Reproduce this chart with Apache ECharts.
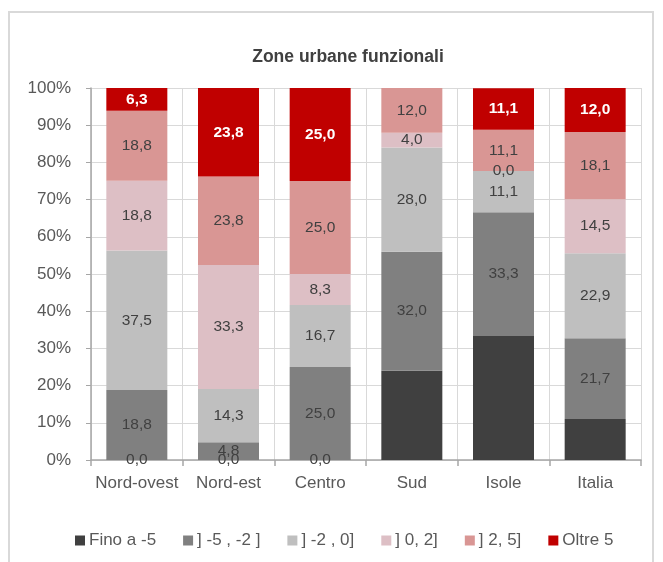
<!DOCTYPE html>
<html>
<head>
<meta charset="utf-8">
<script src="https://cdn.jsdelivr.net/npm/echarts@6/dist/echarts.min.js"></script>
<style>
  html, body { margin: 0; padding: 0; background: #fff; }
  #chart { width: 663px; height: 562px; }
</style>
</head>
<body>
<div id="chart"></div>
<script>
// data (percent)
const categories = ['Nord-ovest', 'Nord-est', 'Centro', 'Sud', 'Isole', 'Italia'];
const seriesNames = ['Fino a -5', '] -5 , -2 ]', '] -2 , 0]', '] 0, 2]', '] 2, 5]', 'Oltre 5'];
const finoA5 = [0.0, 0.0, 0.0, 24.0, 33.3, 11.0];
const da5a2 = [18.8, 4.8, 25.0, 32.0, 33.3, 21.7];
const da2a0 = [37.5, 14.3, 16.7, 28.0, 11.1, 22.9];
const da0a2 = [18.8, 33.3, 8.3, 4.0, 0.0, 14.5];
const da2a5 = [18.8, 23.8, 25.0, 12.0, 11.1, 18.1];
const oltre5 = [6.3, 23.8, 25.0, null, 11.1, 12.0];
const yTicks = [0, 10, 20, 30, 40, 50, 60, 70, 80, 90, 100];

const FONT = "'Liberation Sans', Arial, sans-serif";
const colors = ['#404040', '#808080', '#bfbfbf', '#ddbfc5', '#d99694', '#c00000'];
const fmt = (v) => v.toFixed(1).replace('.', ',');

const allData = [finoA5, da5a2, da2a0, da0a2, da2a5, oltre5];

const chart = echarts.init(document.getElementById('chart'));

const series = allData.map((vals, i) => ({
  name: seriesNames[i],
  type: 'bar',
  stack: 'tot',
  barWidth: 61,
  data: vals,
  itemStyle: { color: colors[i] },
  label: {
    show: true,
    position: 'inside',
    fontFamily: FONT,
    fontSize: 15.5,
    color: i === 5 ? '#fff' : '#404040',
    fontWeight: i === 5 ? 'bold' : 'normal',
    // dark labels on the darkest bar are not visible, only the zeros show
    formatter: (p) => (i === 0 && p.value !== 0) ? '' : fmt(p.value)
  }
}));

chart.setOption({
  animation: false,
  textStyle: { fontFamily: FONT },
  graphic: [{
    type: 'rect',
    shape: { x: 9, y: 12, width: 644, height: 600 },
    style: { fill: 'none', stroke: '#d9d9d9', lineWidth: 2 },
    silent: true
  }],
  title: {
    text: 'Zone urbane funzionali',
    left: 343,
    top: 43,
    textAlign: 'center',
    textStyle: { fontFamily: FONT, fontSize: 17.5, fontWeight: 'bold', color: '#404040' }
  },
  legend: {
    data: seriesNames,
    left: 75,
    top: 532,
    padding: 0,
    itemWidth: 10,
    itemHeight: 10,
    itemGap: 27,
    icon: 'rect',
    textStyle: { fontFamily: FONT, fontSize: 17, color: '#595959', padding: [0, 0, 0, -1] }
  },
  grid: { left: 91, right: 22, top: 88, bottom: 102 },
  xAxis: [{
    type: 'category',
    data: categories,
    axisLine: { lineStyle: { color: '#a6a6a6', width: 1.5 } },
    axisTick: { show: false },
    axisLabel: { fontFamily: FONT, fontSize: 17, color: '#595959', margin: 15, interval: 0 },
    splitLine: { show: true, lineStyle: { color: '#d9d9d9' } }
  }, {
    // helper axis only for the tick marks at edges and centres
    type: 'category',
    position: 'bottom',
    data: categories.flatMap((c) => [c + 'a', c + 'b']),
    axisLine: { show: false },
    axisLabel: { show: false },
    axisTick: { show: true, length: 6, lineStyle: { color: '#a6a6a6', width: 1.5 } }
  }],
  yAxis: {
    type: 'value',
    min: yTicks[0],
    max: yTicks[yTicks.length - 1],
    interval: 10,
    axisLine: { show: true, lineStyle: { color: '#a6a6a6', width: 1.5 } },
    axisTick: { show: true, length: 5, lineStyle: { color: '#a6a6a6' } },
    axisLabel: { fontFamily: FONT, fontSize: 17, color: '#595959', margin: 20, formatter: '{value}%' },
    splitLine: { show: true, lineStyle: { color: '#d9d9d9' } }
  },
  series: series
});
</script>
</body>
</html>
